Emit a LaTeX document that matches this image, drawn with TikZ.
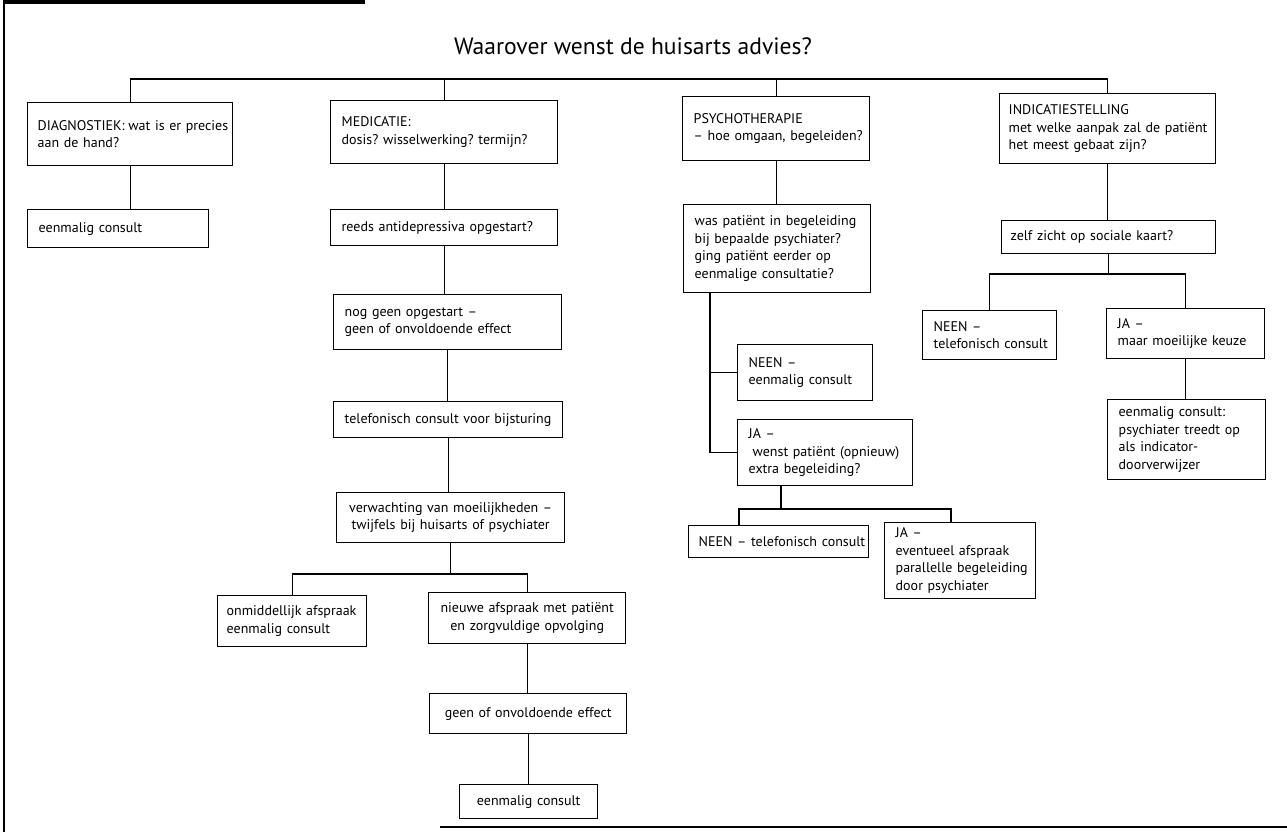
\documentclass[tikz,border=0pt]{standalone}
\usepackage{fontspec}
\setmainfont{PT Sans}
\frenchspacing
\newcommand{\mb}[1]{\mbox{#1}}
\begin{document}
\begin{tikzpicture}[x=1pt,y=-1pt,
  bx/.style={draw, line width=1.4pt, anchor=north west, inner xsep=11pt, inner ysep=0pt,
             align=left, font=\fontsize{14}{17.5}\selectfont},
  cbx/.style={bx, align=center},
  ln/.style={line width=1.4pt},
  edge/.style={line width=2pt}]
\useasboundingbox (0,0) rectangle (1287,832);
\fill[white] (0,0) rectangle (1287,832);
% page frame remnants
\fill (4,0) rectangle (365,4);
\draw[edge] (4,0) -- (4,832);
\draw[edge] (440,827) -- (1287,827);

\node[font=\fontsize{23.6}{28}\selectfont] (title) at (633,46) {Waarover wenst de huisarts advies?};

% column 1
\node[bx, inner xsep=10pt, text width=185pt, minimum height=63pt] (diag) at (27,102) {\mb{DIAGNOSTIEK:\hspace{-1pt} wat is er precies}\\\mb{aan de hand?}};
\node[bx, text width=159pt, minimum height=38pt] (diag1) at (27,209) {\mb{eenmalig consult}};

% column 2
\node[bx, text width=205pt, minimum height=63pt] (med) at (330,100) {\mb{MEDICATIE:}\\\mb{dosis? wisselwerking? termijn?}};
\node[bx, text width=205pt, minimum height=36pt] (med1) at (330,209) {\mb{reeds antidepressiva opgestart?}};
\node[bx, text width=206pt, minimum height=55pt] (med2) at (333,294) {\mb{nog geen opgestart --}\\\mb{geen of onvoldoende effect}};
\node[bx, text width=207pt, minimum height=36pt] (med3) at (333,401) {\mb{telefonisch consult voor bijsturing}};
\node[cbx, text width=206pt, minimum height=50pt] (med4) at (336,492) {\mb{verwachting van moeilijkheden --}\\\mb{twijfels bij huisarts of psychiater}};
\node[bx, inner xsep=9pt, text width=131pt, minimum height=51pt] (med5a) at (217,595) {\mb{onmiddellijk afspraak}\\\mb{eenmalig consult}};
\node[cbx, text width=175pt, minimum height=51pt] (med5b) at (428,592) {\mb{nieuwe afspraak met patiënt}\\\mb{en zorgvuldige opvolging}};
\node[cbx, text width=175pt, minimum height=40pt] (med6) at (429,693) {\mb{geen of onvoldoende effect}};
\node[cbx, text width=116pt, minimum height=34pt] (med7) at (459,784) {\mb{eenmalig consult}};

% column 3
\node[bx, text width=165pt, minimum height=64pt] (psy) at (682,96) {\mb{PSYCHOTHERAPIE}\\\mb{-- hoe omgaan, begeleiden?}};
\node[bx, text width=165pt, minimum height=88pt] (was) at (683,204) {\mb{was patiënt in begeleiding}\\\mb{bij bepaalde psychiater?}\\\mb{ging patiënt eerder op}\\\mb{eenmalige consultatie?}};
\node[bx, text width=113pt, minimum height=56pt] (neen1) at (737,344) {\mb{NEEN --}\\\mb{eenmalig consult}};
\node[bx, text width=153pt, minimum height=66pt] (ja1) at (737,419) {\mb{JA --}\\\hspace*{4pt}\mb{wenst patiënt (opnieuw)}\\\mb{extra begeleiding?}};
\node[bx, inner xsep=10pt, text width=160pt, minimum height=32pt] (neen2) at (688,525) {\mb{NEEN -- telefonisch consult}};
\node[bx, text width=129pt, minimum height=76pt] (ja2) at (884,522) {\mb{JA --}\\\mb{eventueel afspraak}\\\mb{parallelle begeleiding}\\\mb{door psychiater}};

% column 4
\node[bx, inner xsep=9pt, text width=198pt, minimum height=70pt] (indic) at (999,93) {\mb{INDICATIESTELLING}\\\mb{met welke aanpak zal de patiënt}\\\mb{het meest gebaat zijn?}};
\node[bx, inner xsep=9pt, text width=196pt, minimum height=33pt] (zelf) at (1001,220) {\mb{zelf zicht op sociale kaart?}};
\node[bx, text width=112pt, minimum height=49pt] (neen3) at (922,310) {\mb{NEEN --}\\\mb{telefonisch consult}};
\node[bx, text width=136pt, minimum height=50pt] (ja3) at (1106,308) {\mb{JA --}\\\mb{maar moeilijke keuze}};
\node[bx, text width=136pt, minimum height=80pt] (ein3) at (1107,399) {\mb{eenmalig consult:}\\\mb{psychiater treedt op}\\\mb{als indicator-}\\\mb{doorverwijzer}};

% helper coordinates
\coordinate (top) at (0,79);
\coordinate (mbar) at (449,574);
\coordinate (pv) at (710,292);
\coordinate (jb) at (781,485);
\coordinate (jbar) at (781,509);
\coordinate (n2top) at (739,525);
\coordinate (j2top) at (951,522);
\coordinate (zbar) at (1104,274);

% connectors
\draw[ln] (diag.north) -- (diag.north |- top) -- (indic.north |- top) -- (indic.north);
\draw[ln] (med.north) -- (med.north |- top);
\draw[ln] (psy.north) -- (psy.north |- top);

\draw[ln] (diag.south) -- (diag.south |- diag1.north);

\draw[ln] (med.south) -- (med.south |- med1.north);
\draw[ln] (med1.south) -- (med1.south |- med2.north);
\draw[ln] (med2.south) -- (med2.south |- med3.north);
\draw[ln] (med3.south) -- (med3.south |- med4.north);
\draw[ln] (med4.south |- mbar) -- (med4.south);
\draw[ln] (med5a.north) |- (mbar) -| (med5b.north);
\draw[ln] (med5b.south) -- (med5b.south |- med6.north);
\draw[ln] (med6.south) -- (med6.south |- med7.north);

\draw[ln] (psy.south) -- (psy.south |- was.north);
\draw[ln] (pv) |- (neen1.west);
\draw[ln] (pv) |- (ja1.west);
\draw[ln] (jb) -- (jbar);
\draw[ln] (n2top) |- (jbar) -| (j2top);

\draw[ln] (indic.south) -- (indic.south |- zelf.north);
\draw[ln] (zelf.south) -- (zelf.south |- zbar);
\draw[ln] (neen3.north) |- (zbar) -| (ja3.north);
\draw[ln] (ja3.south) -- (ja3.south |- ein3.north);
\end{tikzpicture}
\end{document}
